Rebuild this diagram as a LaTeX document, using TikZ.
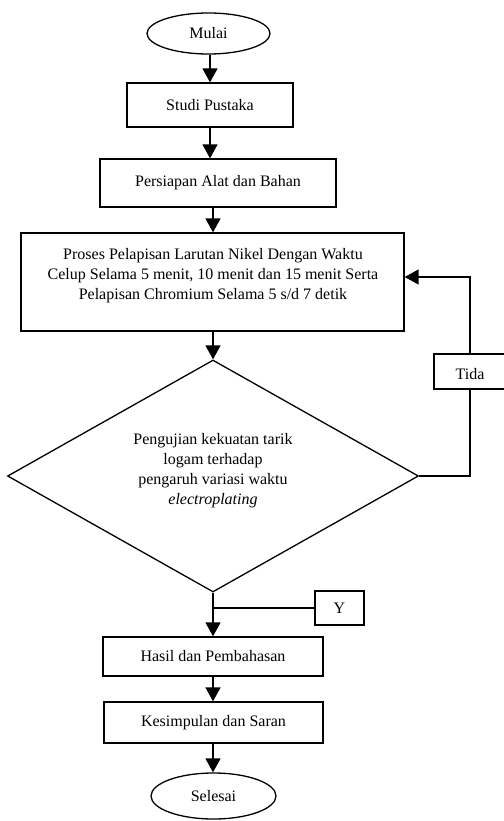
\documentclass[tikz,border=0pt]{standalone}
\usepackage{fontspec}
\setmainfont{Liberation Serif}
\usetikzlibrary{shapes.geometric,arrows.meta}
\begin{document}
\begin{tikzpicture}[x=1pt,y=-1pt,
  every node/.style={font=\fontsize{16}{20}\selectfont},
  box/.style={draw,line width=1.3pt,rectangle,inner sep=0pt},
  oval/.style={draw,line width=1.3pt,ellipse,inner sep=0pt},
  flow/.style={line width=1.4pt,-{Triangle[length=14pt,width=15pt]}},
  plain/.style={line width=1.4pt}]
\useasboundingbox (0,0) rectangle (503,821);
\node[oval,minimum width=123pt,minimum height=41pt] (mulai) at (208.5,33.5) {Mulai};
\node[box,minimum width=166pt,minimum height=44pt] (studi) at (210,105) {Studi Pustaka};
\node[box,minimum width=236pt,minimum height=48pt] (pers) at (218,183) {Persiapan Alat dan Bahan};
\node[box,minimum width=383pt,minimum height=98pt] (proses) at (212.5,282) {};
\node[align=center,anchor=north] (prosestxt) at (213,244.5) {Proses Pelapisan Larutan Nikel Dengan Waktu\\Celup Selama 5 menit, 10 menit dan 15 menit Serta\\Pelapisan Chromium Selama 5 s/d 7 detik};
\node[draw,line width=1.3pt,diamond,minimum width=411pt,minimum height=232pt,inner sep=0pt] (dia) at (213,476) {};
\node[align=center] (diatxt) at (213,471) {Pengujian kekuatan tarik\\logam terhadap\\pengaruh variasi waktu\\\textit{electroplating}};
\node[box,minimum width=72pt,minimum height=35pt] (tida) at (470,371.5) {};
\node (tidatxt) at (470,374) {Tida};
\node[box,minimum width=49pt,minimum height=34pt] (y) at (339.5,608) {Y};
\node[box,minimum width=220pt,minimum height=39pt] (hasil) at (213,656.5) {Hasil dan Pembahasan};
\node[box,minimum width=219pt,minimum height=41pt] (kes) at (213.5,722.5) {Kesimpulan dan Saran};
\node[oval,minimum width=125pt,minimum height=46pt] (sel) at (213.5,796) {Selesai};
\draw[flow] ([xshift=1.5pt]mulai.south) -- ([xshift=1.5pt]mulai.south |- studi.north);
\draw[flow] (studi.south) -- (studi.south |- pers.north);
\draw[flow] ([xshift=-5pt]pers.south) -- ([xshift=-5pt]pers.south |- proses.north);
\draw[flow] (proses.south -| dia.north) -- (dia.north);
\draw[plain] (dia.east) -| (tida.south);
\draw[flow] (tida.north) |- ([yshift=5pt]proses.east);
\draw[flow] (dia.south) -- (hasil.north -| dia.south);
\draw[plain] (dia.south |- y.west) -- (y.west);
\draw[flow] (hasil.south) -- (hasil.south |- kes.north);
\draw[flow] ([xshift=-0.5pt]kes.south) -- ([xshift=-0.5pt]kes.south |- sel.north);
\end{tikzpicture}
\end{document}
